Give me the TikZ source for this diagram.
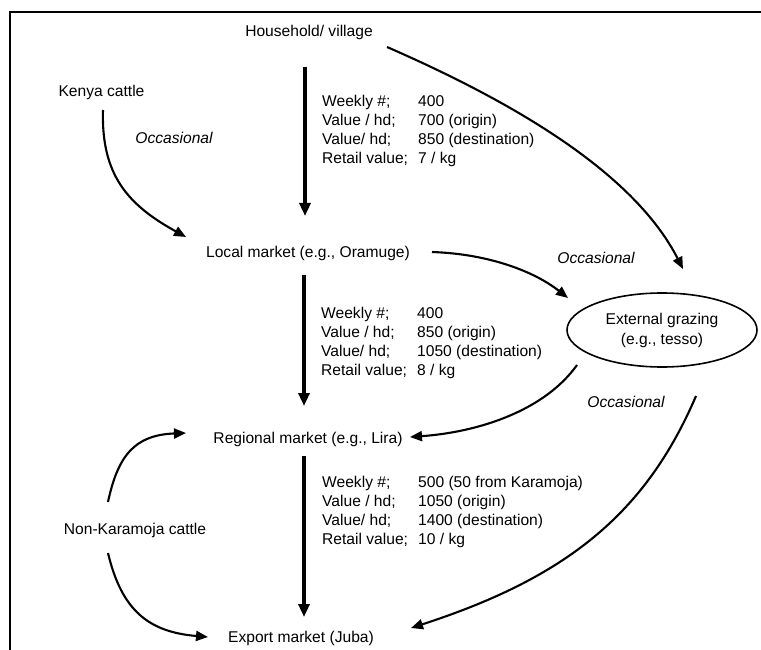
\documentclass[tikz,border=0pt]{standalone}
\usepackage{fontspec}
\setmainfont{Liberation Sans}
\usetikzlibrary{arrows.meta,shapes.geometric}
\begin{document}
\begin{tikzpicture}[x=1pt,y=-1pt,
  lbl/.style={font=\fontsize{15.6}{19}\selectfont, inner sep=0pt, anchor=base},
  lft/.style={lbl, anchor=base west},
  occ/.style={lbl, font=\fontsize{15.6}{19}\selectfont\itshape},
  bigarrow/.style={line width=3.6pt, -{Triangle[length=13pt,width=11pt]}},
  flow/.style={line width=2.1pt, -{Triangle[length=12pt,width=10pt]}},
  frame/.style={line width=2.2pt}]
\useasboundingbox (0,0) rectangle (761,650);
\draw[frame] (761,12) -- (10,12) -- (10,650);

% main nodes
\node[lbl] (hh) at (309,37) {Household/ village};
\node[lbl] (kc) at (101.5,97) {Kenya cattle};
\node[lbl] (lm) at (308,257) {Local market (e.g., Oramuge)};
\node[lbl] (rm) at (308,443) {Regional market (e.g., Lira)};
\node[lbl] (nk) at (135,534) {Non-Karamoja cattle};
\node[lbl] (em) at (301,642) {Export market (Juba)};
\node[draw, ellipse, line width=1.6pt, minimum width=190pt, minimum height=74pt,
      inner sep=0pt, align=center, font=\fontsize{15.6}{20}\selectfont] (eg) at (662,330)
      {External grazing\\(e.g., tesso)};

\node[occ] (o1) at (174,144) {Occasional};
\node[occ] (o2) at (596,263) {Occasional};
\node[occ] (o3) at (626,407) {Occasional};

% data blocks
\node[lft] (a1) at (322,107) {Weekly \#;};   \node[lft] (b1) at (418,107) {400};
\node[lft] (a2) at (322,126) {Value / hd;};  \node[lft] (b2) at (418,126) {700 (origin)};
\node[lft] (a3) at (322,145) {Value/ hd;};   \node[lft] (b3) at (418,145) {850 (destination)};
\node[lft] (a4) at (322,164) {Retail value;};\node[lft] (b4) at (418,164) {7 / kg};

\node[lft] (c1) at (321,318) {Weekly \#;};   \node[lft] (d1) at (417,318) {400};
\node[lft] (c2) at (321,337) {Value / hd;};  \node[lft] (d2) at (417,337) {850 (origin)};
\node[lft] (c3) at (321,356) {Value/ hd;};   \node[lft] (d3) at (417,356) {1050 (destination)};
\node[lft] (c4) at (321,375) {Retail value;};\node[lft] (d4) at (417,375) {8 / kg};

\node[lft] (e1) at (322,487) {Weekly \#;};   \node[lft] (f1) at (418,487) {500 (50 from Karamoja)};
\node[lft] (e2) at (322,506) {Value / hd;};  \node[lft] (f2) at (418,506) {1050 (origin)};
\node[lft] (e3) at (322,525) {Value/ hd;};   \node[lft] (f3) at (418,525) {1400 (destination)};
\node[lft] (e4) at (322,544) {Retail value;};\node[lft] (f4) at (418,544) {10 / kg};

% connector end points
\coordinate (hhS) at (305,67);  \coordinate (lmN) at (305,216);
\coordinate (lmS) at (304,275); \coordinate (rmN) at (304,406);
\coordinate (rmS) at (304,456); \coordinate (emN) at (304,617);
\coordinate (kcS) at (103,110); \coordinate (lmW) at (186,237);
\coordinate (lmE) at (432,252); \coordinate (egW) at (568,298);
\coordinate (hhE) at (387,47);  \coordinate (egN) at (683,269);
\coordinate (egS) at (577,365); \coordinate (rmE) at (410,437);
\coordinate (egSE) at (696,396);\coordinate (emE) at (411,628);
\coordinate (nkN) at (108,502); \coordinate (rmW) at (186,433);
\coordinate (nkS) at (108,553); \coordinate (emW) at (208,637);

% vertical flows
\draw[bigarrow] (hhS) -- (lmN);
\draw[bigarrow] (lmS) -- (rmN);
\draw[bigarrow] (rmS) -- (emN);

% curved flows
\draw[flow] (kcS) .. controls (101,175) and (128,205) .. (lmW);
\draw[flow] (lmE) .. controls (490,254) and (535,272) .. (egW);
\draw[flow] (hhE) .. controls (520,105) and (635,175) .. (egN);
\draw[flow] (egS) .. controls (545,410) and (480,432) .. (rmE);
\draw[flow] (egSE) .. controls (645,515) and (565,578) .. (emE);
\draw[flow] (nkN) .. controls (118,455) and (135,435) .. (rmW);
\draw[flow] (nkS) .. controls (122,612) and (150,632) .. (emW);
\end{tikzpicture}
\end{document}
